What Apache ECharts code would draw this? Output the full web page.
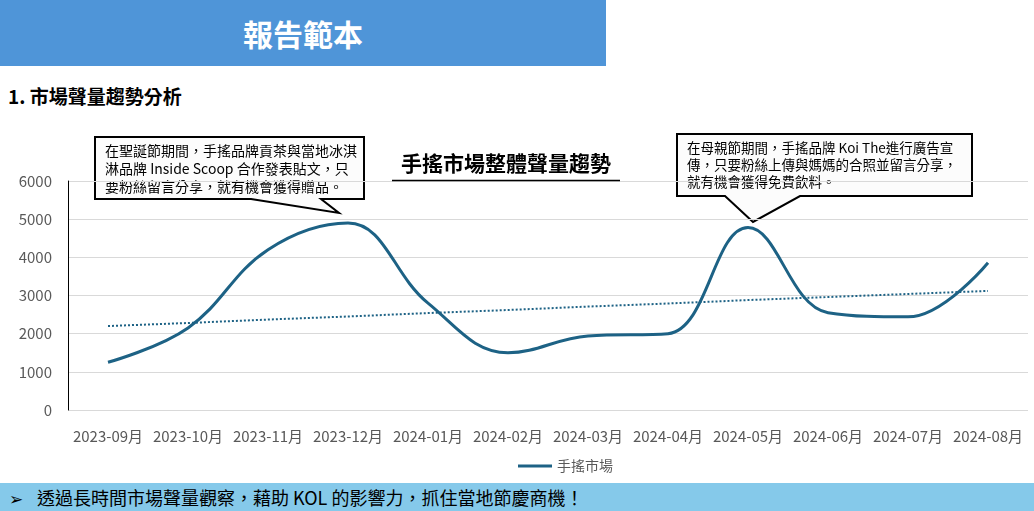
<!DOCTYPE html>
<html>
<head>
<meta charset="utf-8">
<script src="https://cdn.jsdelivr.net/npm/echarts@6/dist/echarts.min.js"></script>
<style>
  html, body { margin: 0; padding: 0; background: #fff; }
  body { width: 1034px; height: 511px; position: relative; overflow: hidden; font-family: "Noto Sans CJK TC", "Noto Sans", sans-serif; }
  #header { position: absolute; left: 0; top: 0; width: 606px; height: 66px; background: #4f95d8; color: #fff; font-size: 30px; font-weight: bold; text-align: center; line-height: 66px; }
  #subtitle { position: absolute; left: 8px; top: 82px; font-size: 19px; font-weight: bold; color: #000; line-height: 28px; }
  #chart { position: absolute; left: 0; top: 0; width: 1034px; height: 511px; }
  #footer { position: absolute; left: 0; top: 483px; width: 1034px; height: 28px; background: #85c9ea; color: #000; font-size: 18px; line-height: 28px; }
  #footer .arrow { display: inline-block; width: 28px; padding-left: 9px; font-size: 17px; }
</style>
</head>
<body>
<div id="header">報告範本</div>
<div id="subtitle">1. 市場聲量趨勢分析</div>
<div id="chart"></div>
<div id="footer"><span class="arrow">➢</span>透過長時間市場聲量觀察，藉助 KOL 的影響力，抓住當地節慶商機！</div>
<script>
  // 月份
  const months = ["2023-09月", "2023-10月", "2023-11月", "2023-12月", "2024-01月", "2024-02月",
    "2024-03月", "2024-04月", "2024-05月", "2024-06月", "2024-07月", "2024-08月"];
  // 手搖市場聲量
  const volume = [1250, 2150, 4200, 4900, 2800, 1500, 1940, 2000, 4780, 2550, 2440, 3860];
  // 趨勢線
  const trend = [2200, 2280, 2370, 2450, 2540, 2620, 2710, 2790, 2880, 2960, 3040, 3120];

  const lineColor = "#1d6285";
  const cjk = '"Noto Sans CJK TC", "Noto Sans", sans-serif';

  const chart = echarts.init(document.getElementById("chart"));

  function callout(points, x, y, lines, size, lh) {
    return {
      type: "group",
      children: [
        {
          type: "polygon",
          shape: { points: points },
          style: { fill: "#fcfcfc", stroke: "#000", lineWidth: 2 }
        },
        {
          type: "text",
          x: x, y: y,
          style: {
            text: lines.join("\n"),
            font: size + "px " + cjk,
            fill: "#000",
            lineHeight: lh
          }
        }
      ]
    };
  }

  const option = {
    animation: false,
    textStyle: { fontFamily: cjk },
    grid: { left: 68, right: 6, top: 181, bottom: 101 },
    legend: {
      data: ["手搖市場"],
      left: 513,
      top: 454,
      itemWidth: 34,
      itemHeight: 3,
      itemGap: 4,
      icon: "rect",
      textStyle: { color: "#595959", fontSize: 14, fontFamily: cjk }
    },
    xAxis: {
      type: "category",
      data: months,
      axisLine: { show: false },
      axisTick: { show: false },
      axisLabel: { color: "#595959", fontSize: 15, margin: 19, interval: 0 }
    },
    yAxis: {
      type: "value",
      min: 0,
      max: 6000,
      interval: 1000,
      axisLine: { show: true, lineStyle: { color: "#000", width: 1 } },
      splitLine: { lineStyle: { color: "#d9d9d9" } },
      axisLabel: { color: "#595959", fontSize: 15, margin: 16, formatter: v => String(v) }
    },
    series: [
      {
        name: "手搖市場",
        type: "line",
        data: volume,
        smooth: 0.4,
        showSymbol: false,
        lineStyle: { color: lineColor, width: 3 },
        itemStyle: { color: lineColor },
        z: 3
      },
      {
        name: "趨勢",
        type: "line",
        data: trend,
        showSymbol: false,
        lineStyle: { color: lineColor, width: 2, type: "dotted" },
        itemStyle: { color: lineColor },
        z: 2
      }
    ],
    graphic: [
      {
        type: "text",
        x: 506, y: 163,
        style: {
          text: "手搖市場整體聲量趨勢",
          font: "bold 21px " + cjk,
          fill: "#000",
          align: "center",
          verticalAlign: "middle"
        },
        z: 10
      },
      {
        type: "line",
        shape: { x1: 392, y1: 180.5, x2: 620, y2: 180.5 },
        style: { stroke: "#000", lineWidth: 1.5 },
        z: 10
      },
      callout([[95, 137], [364, 137], [364, 199], [321, 199], [339, 213], [251, 199], [95, 199]],
        105, 142,
        ["在聖誕節期間，手搖品牌貢茶與當地冰淇", "淋品牌 Inside Scoop 合作發表貼文，只", "要粉絲留言分享，就有機會獲得贈品。"],
        14, 18),
      callout([[677, 134], [972, 134], [972, 196], [800, 196], [753, 222], [725, 196], [677, 196]],
        687, 139,
        ["在母親節期間，手搖品牌 Koi The進行廣告宣", "傳，只要粉絲上傳與媽媽的合照並留言分享，", "就有機會獲得免費飲料。"],
        13.5, 17)
    ]
  };

  chart.setOption(option);
</script>
</body>
</html>
